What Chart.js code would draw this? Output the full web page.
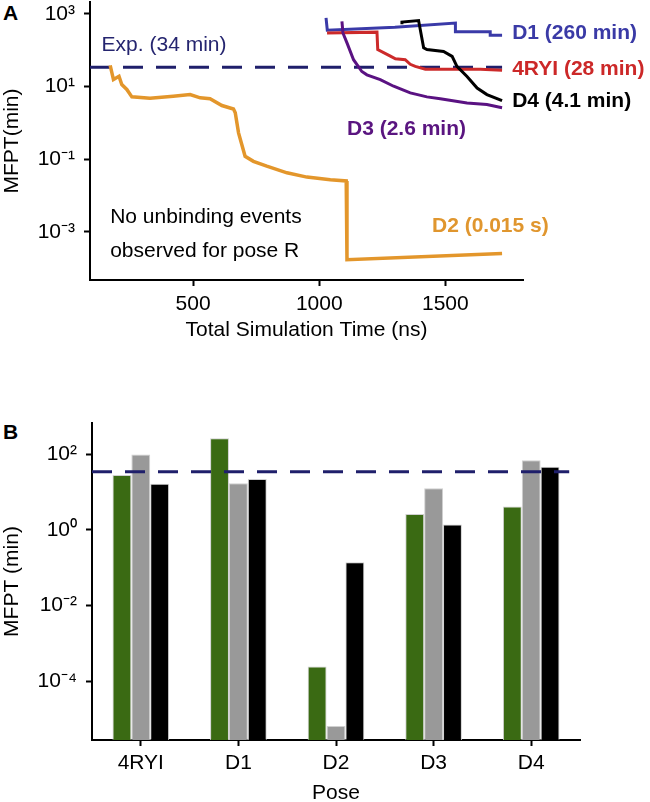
<!DOCTYPE html>
<html>
<head>
<meta charset="utf-8">
<script src="https://cdn.jsdelivr.net/npm/chart.js@4.4.0/dist/chart.umd.min.js"></script>
<style>
  html, body { margin: 0; padding: 0; background: #fff; }
  body { width: 650px; height: 802px; position: relative; overflow: hidden; font-family: "Liberation Sans", Arial, sans-serif; }
  .panel { position: absolute; left: 0; }
  #panelA { top: 0; }
  #panelB { top: 345px; }
  .letter { position: absolute; left: 3px; font-weight: bold; font-size: 21px; color: #000; }
</style>
</head>
<body>
<div class="letter" style="top:1px">A</div>
<div class="letter" style="top:420px">B</div>
<canvas id="panelA" class="panel" width="650" height="345"></canvas>
<canvas id="panelB" class="panel" width="650" height="457"></canvas>
<script>
// ---------------- data: panel A (MFPT vs total simulation time) ----------------
const expMFPT = 34; // experimental value, min

const d2Time = [171, 184, 206, 217, 237, 257, 329, 421, 488, 528, 567, 614, 660, 667, 680, 706, 739, 792, 872, 951, 1044, 1107, 1110, 1725];
const d2MFPT = [38.6, 15.6, 19.2, 11.4, 8.3, 5.2, 4.8, 5.4, 6.0, 4.9, 4.6, 3.0, 2.4, 1.9, 0.53, 0.12, 0.087, 0.064, 0.042, 0.032, 0.027, 0.025, 1.7e-4, 2.5e-4];

const d1Time = [1027, 1032, 1300, 1540, 1540, 1678, 1678, 1725];
const d1MFPT = [780, 355, 430, 560, 325, 325, 260, 260];

const ryiTime = [1031, 1229, 1232, 1282, 1302, 1341, 1361, 1381, 1421, 1480, 1639, 1725];
const ryiMFPT = [300, 316, 105, 69, 58, 55, 41, 36, 30, 30, 30, 28];

const d3Time = [1090, 1094, 1110, 1136, 1169, 1189, 1242, 1295, 1361, 1427, 1480, 1586, 1665, 1725];
const d3MFPT = [630, 300, 160, 55, 26, 21, 15.6, 10.2, 6.7, 5.2, 4.6, 3.55, 3.2, 2.6];

const d4Time = [1328, 1328, 1394, 1414, 1427, 1493, 1527, 1546, 1586, 1626, 1665, 1725];
const d4MFPT = [520, 600, 660, 117, 105, 93, 68, 36, 19, 9.1, 6.0, 4.1];

const timeTicks = [500, 1000, 1500];
const mfptTicksA = [1e-3, 1e-1, 1e1, 1e3];

// ---------------- data: panel B (MFPT per pose) ----------------
const poses = ['4RYI', 'D1', 'D2', 'D3', 'D4'];
const mfptGreen = [28, 260, 2.45e-4, 2.6, 4.1];
const mfptGray  = [98, 17, 6.6e-6, 12.5, 69];
const mfptBlack = [16.5, 22, 0.14, 1.38, 46];
const mfptTicksB = [1e-4, 1e-2, 1e0, 1e2];

// ---------------- helpers ----------------
const FONT = '"Liberation Sans", Arial, sans-serif';
const SUP = {'0':'⁰','1':'¹','2':'²','3':'³','4':'⁴','5':'⁵','6':'⁶','7':'⁷','8':'⁸','9':'⁹','-':'⁻'};
const pow10Label = (v) => '10' + String(Math.round(Math.log10(v))).split('').map(c => SUP[c]).join('');
const pts = (xs, ys) => xs.map((x, i) => ({x: x, y: ys[i]}));
const noEdgePad = (s) => { s.paddingTop = 0; s.paddingBottom = 0; s.paddingLeft = 0; s.paddingRight = 0; };

const axisStyle = {
  grid: { display: true, drawOnChartArea: false, drawTicks: true, tickLength: 6, tickWidth: 2, tickColor: '#000' },
  border: { display: true, color: '#000', width: 2 }
};

// text labels of panel A, anchored in data coordinates
const labelsA = [
  { text: 'Exp. (34 min)',        x: 137,  y: 135,    color: '#25256f', bold: false },
  { text: 'D1 (260 min)',         x: 1765, y: 290,    color: '#3a3aa6', bold: true },
  { text: '4RYI (28 min)',        x: 1765, y: 29.5,   color: '#cc2828', bold: true },
  { text: 'D4 (4.1 min)',         x: 1765, y: 3.9,    color: '#000000', bold: true },
  { text: 'D3 (2.6 min)',         x: 1110, y: 0.66,   color: '#5a1580', bold: true },
  { text: 'D2 (0.015 s)',         x: 1447, y: 1.4e-3, color: '#e0962e', bold: true },
  { text: 'No unbinding events',  x: 171,  y: 2.45e-3, color: '#000000', bold: false },
  { text: 'observed for pose R',  x: 171,  y: 2.9e-4, color: '#000000', bold: false }
];

const textPluginA = {
  id: 'textA',
  afterDraw(chart) {
    const ctx = chart.ctx, xs = chart.scales.x, ys = chart.scales.y;
    ctx.save();
    ctx.textBaseline = 'middle';
    ctx.textAlign = 'left';
    labelsA.forEach(l => {
      ctx.font = (l.bold ? 'bold ' : '') + '21px ' + FONT;
      ctx.fillStyle = l.color;
      ctx.fillText(l.text, xs.getPixelForValue(l.x), ys.getPixelForValue(l.y));
    });
    ctx.restore();
  }
};

// ---------------- panel A ----------------
new Chart(document.getElementById('panelA'), {
  type: 'line',
  data: {
    datasets: [
      { data: pts([91, 1725], [expMFPT, expMFPT]), borderColor: '#1f1f6b', borderWidth: 3, borderDash: [20, 13], order: 10 },
      { data: pts(d2Time, d2MFPT), borderColor: '#e3962b', borderWidth: 3.5, order: 5 },
      { data: pts(d1Time, d1MFPT), borderColor: '#3a3aa8', order: 4 },
      { data: pts(ryiTime, ryiMFPT), borderColor: '#cc2a2a', order: 3 },
      { data: pts(d3Time, d3MFPT), borderColor: '#5a1282', order: 2 },
      { data: pts(d4Time, d4MFPT), borderColor: '#000000', order: 1 }
    ]
  },
  options: {
    responsive: false,
    animation: false,
    devicePixelRatio: 1,
    layout: { padding: { left: 0, right: 127, top: 2, bottom: 0 } },
    plugins: { legend: { display: false }, tooltip: { enabled: false } },
    elements: { point: { radius: 0 }, line: { tension: 0, borderWidth: 3, fill: false } },
    scales: {
      x: {
        type: 'linear', min: 91, max: 1808,
        ...axisStyle,
        afterBuildTicks: s => { s.ticks = timeTicks.map(v => ({ value: v })); },
        afterFit: s => { s.height = 65; noEdgePad(s); },
        ticks: { color: '#000', font: { size: 21, family: FONT }, padding: 6, maxRotation: 0, callback: v => String(v) },
        title: { display: true, text: 'Total Simulation Time (ns)', color: '#000', font: { size: 21, family: FONT }, padding: { top: 0, bottom: 2 } }
      },
      y: {
        type: 'logarithmic', min: Math.pow(10, -4.33), max: Math.pow(10, 3.33),
        ...axisStyle,
        afterBuildTicks: s => { s.ticks = mfptTicksA.map(v => ({ value: v })); },
        afterFit: s => { s.width = 90; noEdgePad(s); },
        ticks: { color: '#000', font: { size: 21, family: FONT }, padding: 9, callback: v => pow10Label(v) },
        title: { display: true, text: 'MFPT(min)', color: '#000', font: { size: 21, family: FONT }, padding: { top: 0, bottom: 0 } }
      }
    }
  },
  plugins: [textPluginA]
});

// ---------------- panel B ----------------
const expLinePluginB = {
  id: 'expLineB',
  afterDatasetsDraw(chart) {
    const ctx = chart.ctx, xs = chart.scales.x, ys = chart.scales.y;
    const y = ys.getPixelForValue(expMFPT);
    const xEnd = xs.getPixelForValue(poses.length - 1) + 38;
    ctx.save();
    ctx.strokeStyle = '#1f1f6b';
    ctx.lineWidth = 3;
    ctx.setLineDash([20, 13]);
    ctx.beginPath();
    ctx.moveTo(chart.chartArea.left, y);
    ctx.lineTo(xEnd, y);
    ctx.stroke();
    ctx.restore();
  }
};

new Chart(document.getElementById('panelB'), {
  type: 'bar',
  data: {
    labels: poses,
    datasets: [
      { data: mfptGreen, backgroundColor: '#3a6a13' },
      { data: mfptGray,  backgroundColor: '#999999' },
      { data: mfptBlack, backgroundColor: '#000000' }
    ]
  },
  options: {
    responsive: false,
    animation: false,
    devicePixelRatio: 1,
    layout: { padding: { left: 0, right: 70, top: 78, bottom: 0 } },
    plugins: { legend: { display: false }, tooltip: { enabled: false } },
    datasets: { bar: { categoryPercentage: 0.58, barPercentage: 1.0, borderWidth: 1, borderColor: '#d0d0d0', borderSkipped: 'start' } },
    scales: {
      x: {
        ...axisStyle,
        grid: { ...axisStyle.grid, offset: false },
        afterFit: s => { s.height = 62; noEdgePad(s); },
        ticks: { color: '#000', font: { size: 21, family: FONT }, padding: 5, maxRotation: 0 },
        title: { display: true, text: 'Pose', color: '#000', font: { size: 21, family: FONT, lineHeight: 1 }, padding: { top: 0, bottom: -2 } }
      },
      y: {
        type: 'logarithmic', min: Math.pow(10, -5.55), max: Math.pow(10, 2.82),
        ...axisStyle,
        afterBuildTicks: s => { s.ticks = mfptTicksB.map(v => ({ value: v })); },
        afterFit: s => { s.width = 92; noEdgePad(s); },
        ticks: { color: '#000', font: { size: 21, family: FONT }, padding: 9, callback: v => pow10Label(v) },
        title: { display: true, text: 'MFPT (min)', color: '#000', font: { size: 21, family: FONT }, padding: { top: 0, bottom: 0 } }
      }
    }
  },
  plugins: [expLinePluginB]
});
</script>
</body>
</html>
